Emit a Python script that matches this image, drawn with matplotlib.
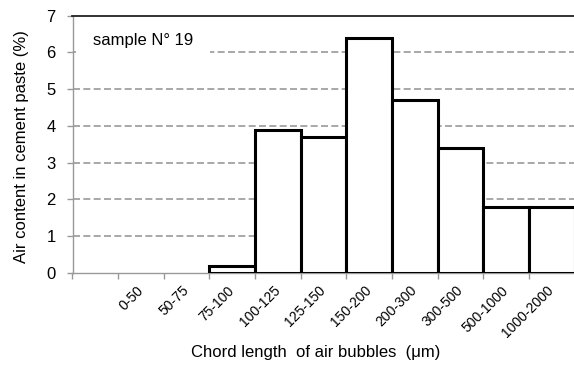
import matplotlib
matplotlib.use("Agg")
import matplotlib.pyplot as plt
import numpy as np

plt.rcParams['font.family'] = ['Liberation Sans', 'DejaVu Sans']

# chord length classes and air content
classes = ["0-50", "50-75", "75-100", "100-125", "125-150",
           "150-200", "200-300", "300-500", "500-1000", "1000-2000"]
air_content = [0, 0, 0.2, 3.9, 3.7, 6.4, 4.7, 3.4, 1.8, 1.8]
y_ticks = [0, 1, 2, 3, 4, 5, 6, 7]

fig = plt.figure(figsize=(5.74, 3.65), dpi=100)
ax = fig.add_axes([72.5 / 574, 92 / 365, 502 / 574, 257.3 / 365])

x = np.arange(len(classes))
# grid first, bars on top hide it
for v in y_ticks[1:-1]:
    ax.axhline(v, color='#999999', lw=1.2, ls=(0, (4.2, 2)), zorder=1)

# empty classes get no outline (Excel draws nothing there)
edge_w = [2.2 if v > 0 else 0 for v in air_content]
ax.bar(x, air_content, width=1.0, color='white', edgecolor='black',
       linewidth=edge_w, zorder=3)

ax.set_xlim(-1.5, 9.5)
ax.set_ylim(0, 7)
ax.set_yticks(y_ticks)

ax.set_xticks(x)
ax.set_xticklabels(classes, fontsize=10, rotation=45, ha='right', va='center',
                   rotation_mode='anchor')
ax.set_xticks(np.arange(-1.5, 10, 1.0), minor=True)
ax.tick_params(axis='x', which='major', length=0, pad=11)
ax.tick_params(axis='x', which='minor', length=4, color='#999999', width=1)

ax.tick_params(axis='y', length=4, color='#999999', width=1, labelsize=12, pad=8)

ax.spines['right'].set_visible(False)
ax.spines['left'].set_color('#999999')
ax.spines['bottom'].set_color('#999999')
ax.spines['top'].set_color('#222222')
ax.spines['left'].set_linewidth(1)
ax.spines['bottom'].set_linewidth(1)
ax.spines['top'].set_linewidth(1.3)

fig.text(22 / 574, (365 - 147) / 365, "Air content in cement paste (%)",
         fontsize=12, rotation=90, ha='center', va='center')
fig.text(316 / 574, 12 / 365, "Chord length  of air bubbles  (\u03bcm)",
         fontsize=12, ha='center', va='center')

# label box hides the grid but stays under the spines
ax.text(93 / 574, 325 / 365, "sample N\u00b0 19", transform=fig.transFigure,
        fontsize=12, ha='left', va='center', zorder=2,
        bbox=dict(facecolor='white', edgecolor='none', pad=12))

plt.savefig("out.png", dpi=100)
